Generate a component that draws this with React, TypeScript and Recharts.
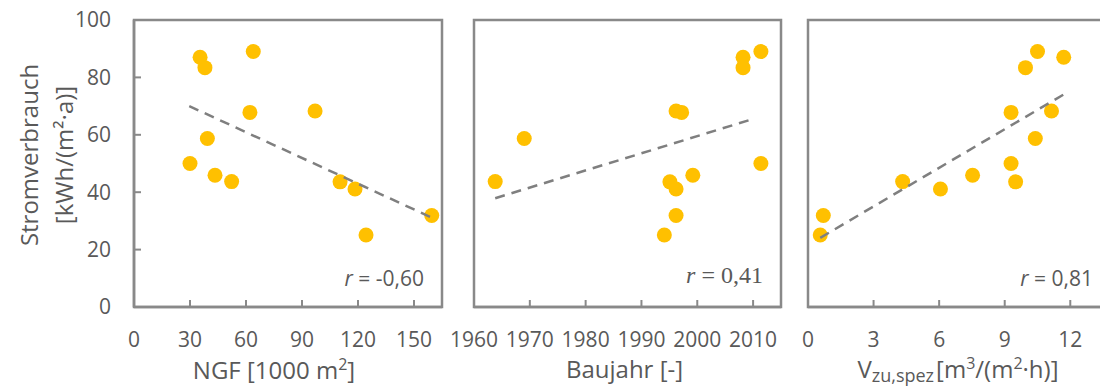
import React from 'react';
import { ScatterChart, Scatter, XAxis, YAxis, ReferenceArea } from 'recharts';

// Stromverbrauch per building, kWh/(m²·a) – same buildings in all three panels
const verbrauch = [89.0, 87.0, 83.4, 68.3, 67.8, 58.7, 50.0, 45.9, 43.7, 43.6, 41.1, 31.9, 25.1];
const ngf = [63.9, 35.4, 38.0, 97.0, 62.1, 39.3, 30.0, 43.4, 52.3, 110.4, 118.4, 159.5, 124.3];
const baujahr = [2011.4, 2008.2, 2008.2, 1996.2, 1997.2, 1969.0, 2011.4, 1999.2, 1963.8, 1995.1, 1996.2, 1996.2, 1994.1];
const vzu = [10.5, 11.7, 9.95, 11.14, 9.29, 10.4, 9.29, 7.53, 4.33, 9.5, 6.06, 0.7, 0.56];

// linear trend lines (start / end)
const ngfTrendX = [29.6, 160.3];
const ngfTrendY = [70.0, 30.9];
const baujahrTrendX = [1963.8, 2010.3];
const baujahrTrendY = [37.9, 65.7];
const vzuTrendX = [0.56, 11.73];
const vzuTrendY = [24.1, 74.2];

const yTicks = [0, 20, 40, 60, 80, 100];
const ngfTicks = [0, 30, 60, 90, 120, 150];
const baujahrTicks = [1960, 1970, 1980, 1990, 2000, 2010];
const vzuTicks = [0, 3, 6, 9, 12];

const AXIS = '#898989';
const TEXT = '#595959';
const DOT = '#FFC000';
const FONT = '"Open Sans", sans-serif';
const SERIF = '"Liberation Serif", "Times New Roman", serif';

type PanelProps = {
  left: number;
  width: number;
  marginLeft: number;
  marginRight: number;
  yAxisWidth: number;
  xs: number[];
  xDomain: [number, number];
  xTicks: number[];
  trendX: number[];
  trendY: number[];
  r: string;
  serifR?: boolean;
  rInset: number;
  showYLabels: boolean;
  xTitle: React.ReactNode;
  xTitleDx: number;
  xTitleDy: number;
};

function Panel(p: PanelProps) {
  const points = p.xs.map((x, i) => ({ x, y: verbrauch[i] }));
  const trend = p.trendX.map((x, i) => ({ x, y: p.trendY[i] }));

  return (
    <div style={{ position: 'absolute', left: p.left, top: 0 }}>
      <ScatterChart
        width={p.width}
        height={386}
        margin={{ top: 20, right: p.marginRight, bottom: 39, left: p.marginLeft }}
      >
        <XAxis
          type="number"
          dataKey="x"
          domain={p.xDomain}
          ticks={p.xTicks}
          interval={0}
          allowDataOverflow
          height={40}
          tickSize={-7}
          tickMargin={32}
          axisLine={{ stroke: AXIS, strokeWidth: 2.5 }}
          tickLine={{ stroke: AXIS, strokeWidth: 2 }}
          tick={{ fill: TEXT, fontSize: 21, fontFamily: FONT }}
          label={(props: any) => {
            const vb = props.viewBox;
            return (
              <text
                x={vb.x + vb.width / 2 + p.xTitleDx}
                y={vb.y + p.xTitleDy}
                textAnchor="middle"
                fill={TEXT}
                fontSize={24}
                fontFamily={FONT}
              >
                {p.xTitle}
              </text>
            );
          }}
        />
        <YAxis
          type="number"
          dataKey="y"
          domain={[0, 100]}
          ticks={yTicks}
          interval={0}
          width={p.yAxisWidth}
          tickSize={-7}
          tickMargin={30}
          axisLine={{ stroke: AXIS, strokeWidth: 2.5 }}
          tickLine={{ stroke: AXIS, strokeWidth: 2 }}
          tick={p.showYLabels ? { fill: TEXT, fontSize: 21, fontFamily: FONT } : false}
          label={
            p.showYLabels
              ? (props: any) => {
                  const vb = props.viewBox;
                  const cy = 155;
                  return (
                    <g fill={TEXT} fontSize={24} fontFamily={FONT}>
                      <text
                        x={vb.x - 6}
                        y={cy}
                        textAnchor="middle"
                        dominantBaseline="central"
                        transform={`rotate(-90 ${vb.x - 6} ${cy})`}
                      >
                        Stromverbrauch
                      </text>
                      <text
                        x={vb.x + 29}
                        y={cy}
                        textAnchor="middle"
                        dominantBaseline="central"
                        transform={`rotate(-90 ${vb.x + 29} ${cy})`}
                      >
                        [kWh/(m²·a)]
                      </text>
                    </g>
                  );
                }
              : undefined
          }
        />
        <ReferenceArea
          x1={p.xDomain[0]}
          x2={p.xDomain[1]}
          y1={0}
          y2={100}
          fill="none"
          fillOpacity={0}
          stroke={AXIS}
          strokeWidth={2.5}
          ifOverflow="visible"
          label={(props: any) => {
            const vb = props.viewBox;
            return (
              <text
                x={vb.x + vb.width - p.rInset}
                y={vb.y + vb.height - (p.serifR ? 24 : 21)}
                textAnchor="end"
                fill={TEXT}
                fontSize={p.serifR ? 24 : 21}
                fontFamily={p.serifR ? SERIF : FONT}
              >
                <tspan fontStyle="italic">r</tspan>
                <tspan>{` = ${p.r}`}</tspan>
              </text>
            );
          }}
        />
        <Scatter
          data={points}
          fill={DOT}
          isAnimationActive={false}
          shape={(s: any) => <circle cx={s.cx} cy={s.cy} r={7.5} fill={DOT} />}
        />
        <Scatter
          data={trend}
          isAnimationActive={false}
          line={{ stroke: '#7f7f7f', strokeWidth: 2.5, strokeDasharray: '10 7' }}
          lineType="joint"
          shape={() => <g />}
        />
      </ScatterChart>
    </div>
  );
}

export default function App() {
  return (
    <div
      style={{
        position: 'absolute',
        left: 0,
        top: 0,
        width: 1100,
        height: 386,
        overflow: 'hidden',
        background: '#fff',
      }}
    >
      <Panel
        left={0}
        width={460}
        marginLeft={34}
        marginRight={18}
        yAxisWidth={100}
        xs={ngf}
        xDomain={[0, 165]}
        xTicks={ngfTicks}
        trendX={ngfTrendX}
        trendY={ngfTrendY}
        r="-0,60"
        rInset={18}
        showYLabels
        xTitle={
          <>
            <tspan>NGF [1000 m</tspan>
            <tspan fontSize={16} dy={-9}>2</tspan>
            <tspan dy={9}>]</tspan>
          </>
        }
        xTitleDx={-14}
        xTitleDy={72}
      />
      <Panel
        left={440}
        width={360}
        marginLeft={34}
        marginRight={19}
        yAxisWidth={0}
        xs={baujahr}
        xDomain={[1960, 2015]}
        xTicks={baujahrTicks}
        trendX={baujahrTrendX}
        trendY={baujahrTrendY}
        r="0,41"
        serifR
        rInset={18}
        showYLabels={false}
        xTitle="Baujahr [-]"
        xTitleDx={-3}
        xTitleDy={71}
      />
      <Panel
        left={780}
        width={360}
        marginLeft={28}
        marginRight={26}
        yAxisWidth={0}
        xs={vzu}
        xDomain={[0, 14]}
        xTicks={vzuTicks}
        trendX={vzuTrendX}
        trendY={vzuTrendY}
        r="0,81"
        rInset={21}
        showYLabels={false}
        xTitle={
          <>
            <tspan>V</tspan>
            <tspan fontSize={18} dy={4}>zu,spez</tspan>
            <tspan dy={-4} dx={2}>[m</tspan>
            <tspan fontSize={16} dy={-9}>3</tspan>
            <tspan dy={9}>/(m</tspan>
            <tspan fontSize={16} dy={-9}>2</tspan>
            <tspan dy={9}>·h)]</tspan>
          </>
        }
        xTitleDx={-3}
        xTitleDy={71}
      />
    </div>
  );
}
